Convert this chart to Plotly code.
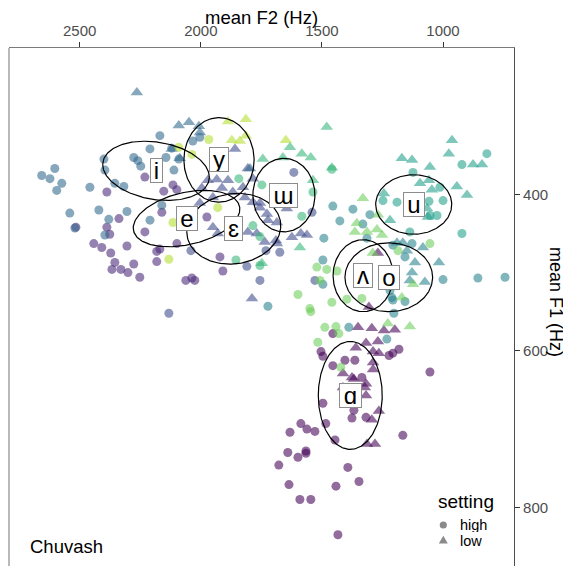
import numpy as np
import plotly.graph_objects as go

# ---------------- data (Hz) ----------------
vowels = ['ɑ', 'e', 'ɛ', 'i', 'o', 'u', 'ɯ', 'ʌ', 'y']
colors = ['#440154', '#482878', '#3E4A89', '#31688E', '#26828E',
          '#1F9E89', '#35B779', '#6DCD59', '#B4DE2C']

i_high_f2 = [2657, 2623, 2603, 2574, 2595, 2541, 2520, 2458, 2400, 2396, 2355, 2318, 2277, 2260,
             2248, 2210, 2169, 2421, 2305, 2210, 2161, 2380, 2396, 2120, 2111, 2091, 2144, 2033, 2004]
i_high_f1 = [376, 380, 367, 386, 395, 424, 443, 391, 355, 369, 386, 390, 353, 357,
             364, 342, 325, 420, 422, 433, 414, 432, 452, 341, 369, 355, 353, 332, 327]
i_low_f2 = [2264, 2091, 2049, 2008, 2004, 2120, 2087, 1797]
i_low_f1 = [270, 312, 308, 313, 321, 342, 354, 367]

y_high_f2 = [1967, 2091, 2037, 1930, 2115, 2132]
y_high_f1 = [330, 340, 349, 417, 436, 483]
y_low_f2 = [1888, 1814, 1872, 1839, 1814, 1649]
y_low_f1 = [307, 304, 331, 332, 325, 331]

e_high_f2 = [2442, 2409, 2388, 2376, 2372, 2355, 2367, 2330, 2301, 2277, 2252, 2305, 2231, 2182,
             2182, 2169, 2388, 2338, 2231, 2153, 2099, 2115, 2062, 2037, 2025, 2099, 2161, 1921,
             1909, 1975, 2516]
e_high_f1 = [463, 468, 442, 451, 475, 487, 496, 496, 500, 489, 506, 466, 448, 473,
             486, 470, 397, 431, 378, 396, 394, 388, 510, 507, 510, 463, 423, 480,
             498, 429, 442]

eps_high_f2 = [1756, 1810, 1616, 1541, 1674, 1529, 2132, 2041, 1731]
eps_high_f1 = [510, 492, 372, 423, 474, 510, 552, 472, 472]
eps_low_f2 = [1859, 1934, 1888, 1913, 1868, 1971, 1996, 1950, 1785, 1818, 1785, 1756, 2004, 1950,
              1930, 1806, 1769, 1736, 1690, 1723, 1756, 1686, 1789, 1806, 1587, 1562, 1624, 1686,
              1727, 1645, 1826]
eps_low_f1 = [342, 381, 382, 392, 397, 382, 392, 404, 380, 404, 410, 411, 411, 442,
              450, 448, 450, 461, 459, 433, 417, 436, 533, 367, 450, 452, 455, 463,
              425, 418, 391]

uu_high_f2 = [1843, 1537, 1583, 1459, 1748, 1785, 1756, 1855, 1756]
uu_high_f1 = [380, 397, 428, 368, 388, 440, 454, 484, 491]
uu_low_f2 = [1632, 1583, 1546, 1744, 1661, 1480, 1537, 1591, 1748, 1459]
uu_low_f1 = [340, 348, 353, 355, 353, 314, 382, 468, 488, 366]

u_high_f2 = [1124, 1013, 1000, 1058, 1054, 1025, 1190, 1248, 1137, 922, 922, 819]
u_high_f1 = [372, 391, 408, 409, 427, 427, 410, 408, 448, 450, 362, 348]
u_low_f2 = [1170, 1128, 1054, 1095, 1058, 1046, 943, 901, 1066, 1062, 1219, 1244, 963, 976, 876, 839]
u_low_f1 = [354, 356, 365, 386, 382, 394, 390, 401, 418, 429, 433, 399, 331, 348, 362, 362]

o_high_f2 = [1455, 1372, 1302, 1426, 1331, 1314, 1207, 1128, 1157, 1000, 856, 1207, 1157, 1219,
             1496, 1492, 1496, 1723, 1389, 1232, 1203, 1211, 744]
o_high_f1 = [415, 419, 426, 434, 438, 456, 465, 463, 480, 509, 507, 535, 537, 523,
             484, 456, 515, 543, 570, 585, 552, 532, 506]
o_low_f2 = [1190, 1166, 1083, 1149, 1116, 1017, 1128, 1137, 1075]
o_low_f1 = [462, 462, 468, 472, 487, 487, 500, 510, 512]

v_high_f2 = [1054, 1186, 1438, 1480, 1521, 1508, 1599, 1550, 1459, 1397, 1335, 1517, 1488, 1442,
             1430, 1422, 1546]
v_high_f1 = [463, 472, 498, 496, 493, 510, 528, 546, 538, 534, 533, 589, 570, 569,
             578, 621, 550]
v_low_f2 = [1331, 1356, 1269, 1364, 1314, 1273, 1252, 1290, 1124, 1170, 1228, 1137]
v_low_f1 = [405, 437, 426, 448, 448, 445, 452, 475, 515, 532, 565, 569]

a_high_f2 = [1455, 1504, 1496, 1405, 1364, 1455, 1223, 1207, 1182, 1335, 1368, 1376, 1318, 1496,
             1484, 1587, 1632, 1562, 1529, 1446, 1166, 1641, 1599, 1566, 1566, 1678, 1393, 1347,
             1636, 1442, 1591, 1546, 1434, 1054]
a_high_f1 = [578, 601, 607, 612, 612, 619, 606, 603, 598, 634, 676, 686, 685, 667,
             693, 693, 704, 700, 703, 714, 708, 730, 736, 728, 731, 746, 749, 767,
             771, 773, 790, 790, 835, 627]
a_low_f2 = [1351, 1294, 1244, 1199, 1318, 1269, 1360, 1289, 1265, 1289, 1289, 1413, 1376, 1368,
            1318, 1323, 1318, 1265, 1294, 1314, 1281, 1413, 1269, 1306]
a_low_f1 = [570, 571, 574, 573, 590, 588, 596, 601, 603, 615, 624, 629, 634, 636,
            642, 647, 657, 677, 688, 719, 719, 647, 475, 544]

series = {
    'ɑ': (a_high_f2, a_high_f1, a_low_f2, a_low_f1),
    'e': (e_high_f2, e_high_f1, [], []),
    'ɛ': (eps_high_f2, eps_high_f1, eps_low_f2, eps_low_f1),
    'i': (i_high_f2, i_high_f1, i_low_f2, i_low_f1),
    'o': (o_high_f2, o_high_f1, o_low_f2, o_low_f1),
    'u': (u_high_f2, u_high_f1, u_low_f2, u_low_f1),
    'ɯ': (uu_high_f2, uu_high_f1, uu_low_f2, uu_low_f1),
    'ʌ': (v_high_f2, v_high_f1, v_low_f2, v_low_f1),
    'y': (y_high_f2, y_high_f1, y_low_f2, y_low_f1),
}

# ellipse summaries per vowel (centre, half-widths, tilt shift), Hz
ell_vowels = ['i', 'y', 'e', 'ɛ', 'ɯ', 'u', 'ʌ', 'o', 'ɑ']
ell_f2 = [2185, 1925, 2059, 1864, 1657, 1121, 1330, 1224, 1383]
ell_f1 = [370, 356, 431, 444, 401, 413, 504, 506, 657]
ell_a = [220, 145, 220, 194, 128, 157, 124, 181, 132]
ell_b = [37, 54, 34, 45, 47, 38, 46, 44, 69]
ell_s = [-8, 0, 12, 4, 0, 0, 0, 0, 0]

# label box widths (px), styling only
label_w = [11, 18, 20, 17, 27, 20, 18, 20, 21]

x_ticks = [2500, 2000, 1500, 1000]
y_ticks = [400, 600, 800]
x_range = [2792, 707]
y_range = [875, 213]

FONT = 'Liberation Sans, Arial, DejaVu Sans, sans-serif'
PW, PH = 505, 518  # plot area size in px

fig = go.Figure()

for v, c in zip(vowels, colors):
    hx, hy, lx, ly = series[v]
    if hx:
        fig.add_trace(go.Scatter(x=hx, y=hy, mode='markers', showlegend=False,
                                 marker=dict(symbol='circle', size=9, color=c, opacity=0.58,
                                             line=dict(width=0))))
    if lx:
        fig.add_trace(go.Scatter(x=lx, y=ly, mode='markers', showlegend=False,
                                 marker=dict(symbol='triangle-up', size=11, color=c, opacity=0.58,
                                             line=dict(width=0))))

t = np.linspace(0, 2 * np.pi, 241)
for v, cx, cy, a, b, s in zip(ell_vowels, ell_f2, ell_f1, ell_a, ell_b, ell_s):
    ex = cx + a * np.cos(t)
    ey = cy + b * np.sin(t) + s * np.cos(t)
    fig.add_trace(go.Scatter(x=ex, y=ey, mode='lines', showlegend=False, hoverinfo='skip',
                             line=dict(color='black', width=1.2)))

for v, cx, cy, w in zip(ell_vowels, ell_f2, ell_f1, label_w):
    fig.add_annotation(x=cx, y=cy, text=v, showarrow=False,
                       font=dict(family=FONT, size=24, color='black'),
                       width=w, height=23, align='center', valign='middle',
                       bgcolor='white', bordercolor='#8c8c8c', borderwidth=1, borderpad=0)

# manual legend ("setting")
LEG_X = (443.3 - 9) / PW
fig.add_annotation(xref='paper', yref='paper', x=(436 - 9) / PW, y=(566 - 501) / PH,
                   text='setting', showarrow=False, xanchor='left', yanchor='middle',
                   font=dict(family=FONT, size=19, color='black'))
fig.add_shape(type='circle', xref='paper', yref='paper', xsizemode='pixel', ysizemode='pixel',
              xanchor=LEG_X, yanchor=(566 - 525) / PH, x0=-3.6, x1=3.6, y0=-3.6, y1=3.6,
              fillcolor='#8a8a8a', line=dict(width=0))
fig.add_shape(type='path', xref='paper', yref='paper', xsizemode='pixel', ysizemode='pixel',
              xanchor=LEG_X, yanchor=(566 - 540) / PH, path='M -4.5 -3.5 L 4.5 -3.5 L 0 4.3 Z',
              fillcolor='#8a8a8a', line=dict(width=0))
fig.add_annotation(xref='paper', yref='paper', x=(459 - 9) / PW, y=(566 - 524.5) / PH,
                   text='high', showarrow=False, xanchor='left', yanchor='middle',
                   height=14, valign='middle', borderpad=0,
                   font=dict(family=FONT, size=14.5, color='black'))
fig.add_annotation(xref='paper', yref='paper', x=(459 - 9) / PW, y=(566 - 541) / PH,
                   text='low', showarrow=False, xanchor='left', yanchor='middle',
                   height=14, valign='middle', borderpad=0,
                   font=dict(family=FONT, size=14.5, color='black'))

fig.add_annotation(xref='paper', yref='paper', x=(28 - 9) / PW, y=(566 - 546) / PH, text='Chuvash',
                   showarrow=False, xanchor='left', yanchor='middle',
                   font=dict(family=FONT, size=18.5, color='black'))
fig.add_annotation(xref='paper', yref='paper', x=(556 - 9) / PW, y=(566 - 302) / PH,
                   text='mean F1 (Hz)', showarrow=False, textangle=90,
                   xanchor='center', yanchor='middle', borderpad=0,
                   font=dict(family=FONT, size=18, color='black'))
fig.add_annotation(xref='paper', yref='paper', x=0.5, y=1 + (48 - 18) / PH,
                   text='mean F2 (Hz)', showarrow=False, xanchor='center', yanchor='middle',
                   borderpad=0,
                   font=dict(family=FONT, size=18.5, color='black'))

fig.add_shape(type='line', xref='paper', yref='paper', x0=0, x1=0, y0=0, y1=1,
              line=dict(color='#8a8a8a', width=1.2))

# page body has an 8px margin, so the figure is sized to fit the window
fig.update_layout(
    width=563, height=558,
    margin=dict(l=1, r=57, t=40, b=0),
    paper_bgcolor='white', plot_bgcolor='white',
    font=dict(family=FONT),
    showlegend=False,
    xaxis=dict(side='top', range=x_range, tickvals=x_ticks, ticks='outside', ticklen=5,
               tickcolor='#333333', showline=True, linecolor='#7a7a7a', linewidth=1.2,
               showgrid=False, zeroline=False,
               tickfont=dict(size=15, color='#4D4D4D', family=FONT)),
    yaxis=dict(side='right', range=y_range, tickvals=y_ticks, ticks='outside', ticklen=5,
               tickcolor='#333333', showline=True, linecolor='#4d4d4d', linewidth=1.2,
               showgrid=False, zeroline=False,
               tickfont=dict(size=15, color='#4D4D4D', family=FONT)),
)

fig.write_html('out.html')
